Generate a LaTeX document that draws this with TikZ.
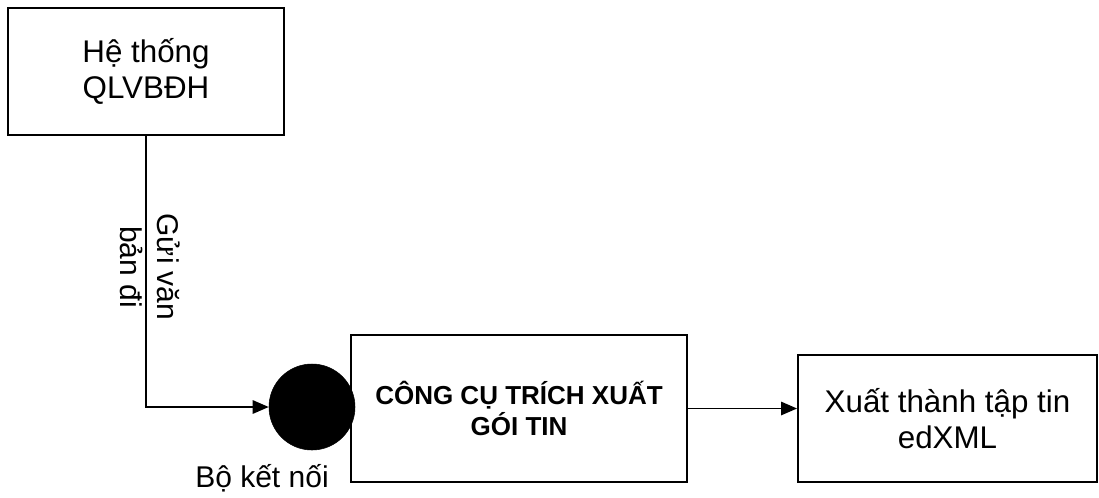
\documentclass[tikz,border=0pt]{standalone}
\usepackage{fontspec}
\setmainfont{Liberation Sans}
\usetikzlibrary{arrows.meta}
\tikzset{
  box/.style={draw=black, line width=1.4pt, fill=white, align=center, inner sep=0pt,
    font=\fontsize{23.5}{27}\selectfont},
  boldbox/.style={box, font=\fontsize{19.5}{23}\selectfont\bfseries},
  conn/.style={circle, fill=black, draw=black, minimum size=64.5pt, inner sep=0pt},
  flow/.style={line width=1.4pt, -{Triangle[length=12pt,width=10pt]}},
  lbl/.style={align=center, inner sep=0pt, font=\fontsize{22.5}{28}\selectfont}
}
\begin{document}
\begin{tikzpicture}[x=0.75pt, y=-0.75pt]
\useasboundingbox (0,0) rectangle (1099,497);
\node[box, minimum width=207pt, minimum height=95.25pt] (box1) at (146,71.5) {Hệ thống\\QLVBĐH};
\node[boldbox, minimum width=252pt, minimum height=110.25pt] (box2) at (519,408.5) {CÔNG CỤ TRÍCH XUẤT\\GÓI TIN};
\node[box, minimum width=224.25pt, minimum height=95.25pt] (box3) at (947.5,418.5) {Xuất thành tập tin\\edXML};
\node[conn] (conn) at (312,407) {};
\node[lbl, rotate=-90] (send) at (150,267) {Gửi văn\\bản đi};
\node[lbl] (connlbl) at (262,478) {Bộ kết nối};
\draw[flow] (box1.south) |- (conn.west);
\draw[flow] (box2.east) -- (box2.east -| box3.west);
\end{tikzpicture}
\end{document}
